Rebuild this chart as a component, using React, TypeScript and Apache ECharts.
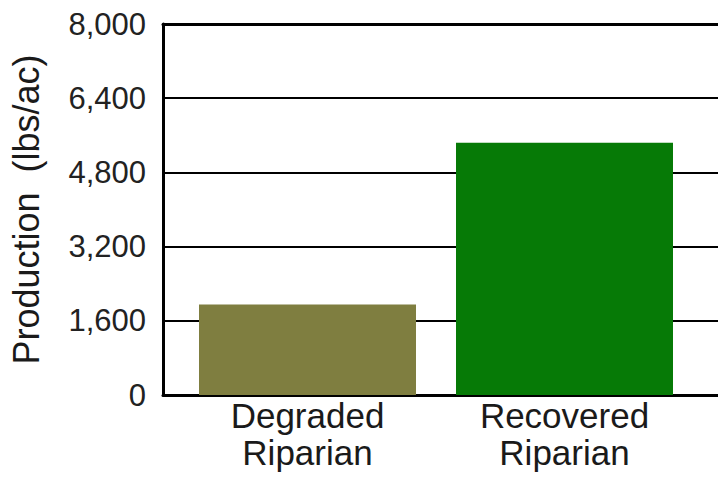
import React, { useEffect, useRef } from "react";
import * as echarts from "echarts";

const categories = ["Degraded\nRiparian", "Recovered\nRiparian"];
const production = [1950, 5440];
const barColors = ["#7f7e40", "#067a06"];
const yMin = 0;
const yMax = 8000;
const yInterval = 1600;
const yName = "Production  (lbs/ac)";

const FONT = "'Liberation Sans', Arial, sans-serif";

export default function App() {
  const ref = useRef<HTMLDivElement>(null);
  useEffect(() => {
    if (!ref.current) return;
    const chart = echarts.init(ref.current, undefined, { renderer: "svg" });
    chart.setOption({
      animation: false,
      backgroundColor: "#ffffff",
      textStyle: { fontFamily: FONT },
      grid: [
        { left: 159, right: 0, top: 24, bottom: 83, containLabel: false },
        { left: 179, right: 25, top: 24, bottom: 83, containLabel: false },
      ],
      xAxis: [
        {
          gridIndex: 0,
          type: "category",
          data: ["", ""],
          position: "bottom",
          axisLine: { show: true, lineStyle: { color: "#000", width: 3 } },
          axisTick: { show: false },
          axisLabel: { show: false },
          splitLine: { show: false },
        },
        {
          gridIndex: 0,
          type: "category",
          data: ["", ""],
          position: "top",
          axisLine: { show: true, lineStyle: { color: "#000", width: 3 } },
          axisTick: { show: false },
          axisLabel: { show: false },
          splitLine: { show: false },
        },
        {
          gridIndex: 1,
          type: "category",
          data: categories,
          axisLine: { show: false },
          axisTick: { show: false },
          axisLabel: {
            show: true,
            color: "#1a1a1a",
            fontSize: 35,
            lineHeight: 37,
            margin: 2,
            fontFamily: FONT,
          },
          splitLine: { show: false },
        },
      ],
      yAxis: [
        {
          gridIndex: 0,
          type: "value",
          min: yMin,
          max: yMax,
          interval: yInterval,
          name: yName,
          nameLocation: "middle",
          nameGap: 119,
          nameTextStyle: { color: "#1a1a1a", fontSize: 36, fontFamily: FONT },
          axisLine: { show: true, lineStyle: { color: "#000", width: 3 } },
          axisTick: { show: false },
          axisLabel: {
            color: "#222",
            fontSize: 31,
            margin: 17,
            fontFamily: FONT,
            formatter: (v: number) => v.toLocaleString("en-US"),
          },
          splitLine: { show: true, lineStyle: { color: "#000", width: 2 } },
        },
        {
          gridIndex: 1,
          type: "value",
          min: yMin,
          max: yMax,
          interval: yInterval,
          show: false,
          splitLine: { show: false },
        },
      ],
      series: [
        {
          type: "bar",
          xAxisIndex: 2,
          yAxisIndex: 1,
          barWidth: 217,
          data: production.map((v, i) => ({
            value: v,
            itemStyle: { color: barColors[i] },
          })),
        },
      ],
    });
    return () => chart.dispose();
  }, []);
  return (
    <div
      ref={ref}
      style={{ position: "fixed", left: 0, top: 0, width: 718, height: 478 }}
    />
  );
}
